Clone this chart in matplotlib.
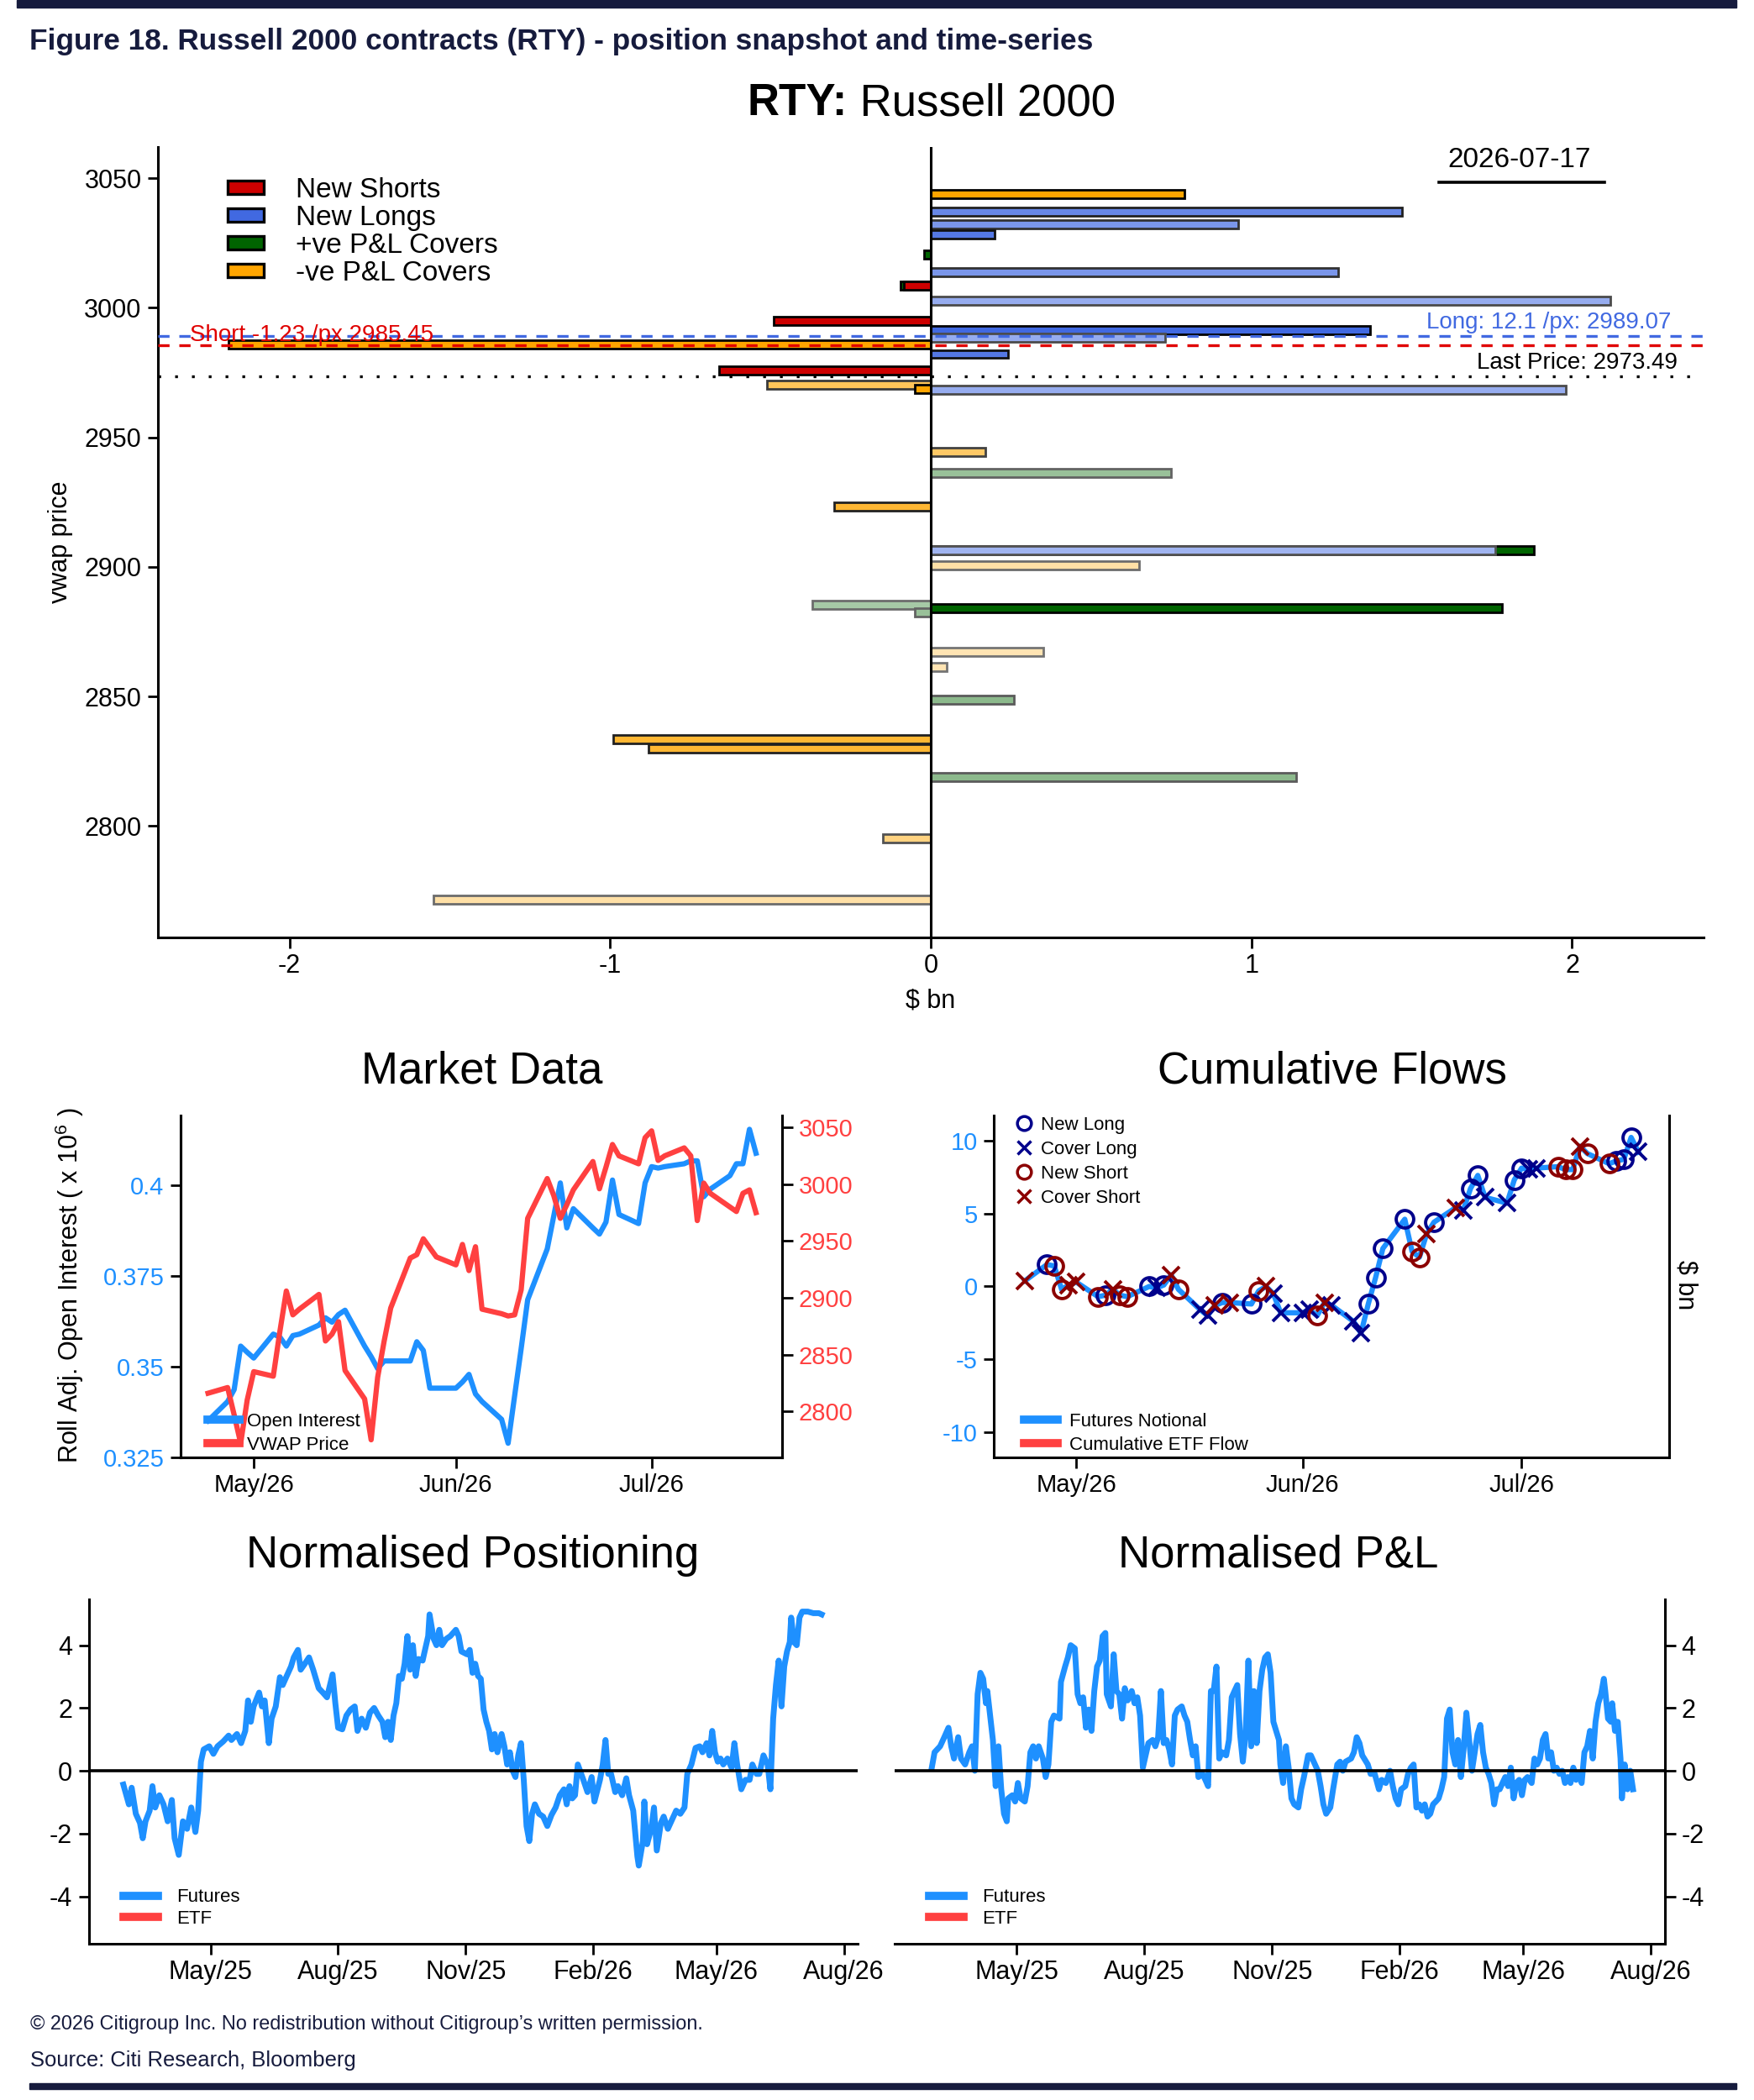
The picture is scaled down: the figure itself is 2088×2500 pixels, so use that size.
import numpy as np
import pandas as pd
import matplotlib
matplotlib.use("Agg")
import matplotlib.pyplot as plt
import matplotlib.dates as mdates
from matplotlib.patches import Patch, Rectangle
from matplotlib.lines import Line2D
from matplotlib.colors import to_rgb

plt.rcParams['font.family'] = ['Liberation Sans', 'DejaVu Sans']
plt.rcParams['mathtext.fontset'] = 'custom'
plt.rcParams['mathtext.rm'] = 'Liberation Sans'
plt.rcParams['mathtext.bf'] = 'Liberation Sans:bold'
plt.rcParams['axes.unicode_minus'] = False

# ---------------- snapshot bars: vwap level, $bn, flow type, recency ----------------
bar_px = [3043.8, 3037.1, 3032.1, 3028.4, 3020.6, 3013.6, 3008.6, 3008.6, 3002.8, 2995.0,
          2991.4, 2988.5, 2985.7, 2982.1, 2975.8, 2970.4, 2968.7, 2968.4, 2944.4, 2936.2,
          2923.3, 2906.5, 2906.5, 2900.5, 2885.4, 2884.1, 2882.5, 2867.2, 2861.3, 2848.6,
          2833.5, 2830.0, 2818.9, 2795.2, 2771.7]
bar_bn = [0.79, 1.47, 0.96, 0.20, -0.02, 1.27, -0.095, -0.085, 2.12, -0.49,
          1.37, 0.73, -2.19, 0.24, -0.66, -0.51, -0.05, 1.98, 0.17, 0.75,
          -0.30, 1.88, 1.76, 0.65, -0.37, 1.78, -0.05, 0.35, 0.05, 0.26,
          -0.99, -0.88, 1.14, -0.15, -1.55]
bar_kind = ['neg', 'long', 'long', 'long', 'pos', 'long', 'pos', 'short', 'long', 'short',
            'long', 'long', 'neg', 'long', 'short', 'neg', 'neg', 'long', 'neg', 'pos',
            'neg', 'pos', 'long', 'neg', 'pos', 'pos', 'pos', 'neg', 'neg', 'pos',
            'neg', 'neg', 'pos', 'neg', 'neg']
bar_recency = [1.0, 0.8, 0.7, 0.9, 1.0, 0.7, 1.0, 1.0, 0.55, 1.0,
               1.0, 0.55, 1.0, 0.9, 1.0, 0.65, 1.0, 0.55, 0.6, 0.4,
               0.8, 1.0, 0.5, 0.35, 0.35, 1.0, 0.4, 0.3, 0.3, 0.45,
               0.8, 0.8, 0.45, 0.5, 0.35]
kind_names = ['short', 'long', 'pos', 'neg']
kind_labels = ['New Shorts', 'New Longs', '+ve P&L Covers', '-ve P&L Covers']

long_amt, long_px = 12.1, 2989.07
short_amt, short_px = -1.23, 2985.45
last_px = 2973.49
snap_date = '2026-07-17'

# ---------------- market data / cumulative flows (daily) ----------------
mkt_dates = pd.bdate_range('2026-04-24', '2026-07-17')
oi = [0.3351, 0.3404, 0.3437, 0.3557, 0.3540, 0.3524, 0.3590, 0.3582, 0.3557, 0.3586,
      0.3590, 0.3615, 0.3635, 0.3623, 0.3644, 0.3656, 0.3557, 0.3528, 0.3495, 0.3516,
      0.3516, 0.3516, 0.3569, 0.3545, 0.3441, 0.3441, 0.3441, 0.3458, 0.3479, 0.3425,
      0.3404, 0.3355, 0.3289, 0.3420, 0.3550, 0.3685, 0.3825, 0.3916, 0.4007, 0.3883,
      0.3936, 0.3883, 0.3866, 0.3899, 0.4015, 0.3920, 0.3895, 0.4007, 0.4052, 0.4048,
      0.4052, 0.4060, 0.4068, 0.4068, 0.3969, 0.3990, 0.4027, 0.4060, 0.4060, 0.4155,
      0.4089]
vwap = [2816, 2821, 2797, 2772, 2810, 2835, 2831, 2870, 2906, 2885,
        2890, 2903, 2862, 2868, 2879, 2836, 2811, 2775, 2830, 2862,
        2891, 2935, 2938, 2952, 2944, 2936, 2929, 2947, 2924, 2945,
        2890, 2886, 2884, 2885, 2907, 2970, 3005, 2990, 2970, 2982,
        2995, 3020, 2996, 3015, 3035, 3025, 3018, 3041, 3047, 3021,
        3025, 3032, 3025, 2968, 3001, 2992, 2980, 2976, 2992, 2995,
        2975]
cum_flow = [0.4, 1.5, 1.4, -0.2, 0.1, 0.3, -0.7, -0.6, -0.2, -0.6,
            -0.7, 0.0, -0.1, 0.1, 0.8, -0.2, -1.6, -2.0, -1.3, -1.1,
            -1.1, -1.2, -0.3, 0.0, -0.5, -1.8, -1.8, -1.6, -2.0, -1.1,
            -1.3, -2.4, -3.2, -1.2, 0.6, 2.6, 4.6, 2.4, 2.0, 3.6,
            4.4, 5.4, 5.2, 6.7, 7.6, 6.1, 5.7, 7.3, 8.1, 8.0,
            8.1, 8.2, 8.0, 8.0, 9.6, 9.1, 8.4, 8.6, 8.7, 10.2,
            9.2]
flow_kind = ['CS', 'NL', 'NS', 'NS', 'CS', 'CS', 'NS', 'NL', 'CS', 'NS',
             'NS', 'NL', 'CL', 'NL', 'CS', 'NS', 'CL', 'CL', 'CS', 'NL',
             'CS', 'NL', 'NS', 'CS', 'CL', 'CL', 'CL', 'CL', 'NS', 'CS',
             'CL', 'CL', 'CL', 'NL', 'NL', 'NL', 'NL', 'NS', 'NS', 'CS',
             'NL', 'CS', 'CL', 'NL', 'NL', 'CL', 'CL', 'NL', 'NL', 'CL',
             'CL', 'NS', 'NS', 'NS', 'CS', 'NS', 'NS', 'NL', 'NL', 'NL',
             'CL']

# ---------------- normalised positioning / P&L (days from 2025-05-01) ----------------
base_day = pd.Timestamp('2025-05-01')
pos_day = [-63, -59, -57, -54, -51, -49, -47, -44, -42, -40, -37, -34, -31, -28, -26, -23, -20, -17, -14, -11,
           -9, -7, -5, -1, 2, 5, 9, 13, 15, 19, 22, 25, 27, 29, 31, 35, 37, 39, 42, 44,
           47, 50, 52, 54, 58, 60, 63, 65, 68, 71, 74, 78, 81, 84, 88, 90, 92, 95, 98, 101,
           104, 106, 109, 112, 115, 118, 121, 124, 126, 128, 130, 132, 134, 136, 138, 140, 142, 144, 146, 148,
           150, 153, 154, 157, 158, 161, 163, 165, 167, 170, 173, 177, 179, 181, 185, 187, 189, 191, 193, 195,
           197, 199, 201, 203, 205, 207, 210, 212, 214, 216, 218, 220, 222, 224, 226, 228, 230, 232, 234, 237,
           240, 243, 246, 249, 252, 255, 257, 259, 261, 263, 265, 269, 272, 275, 277, 281, 283, 285, 287, 289,
           292, 294, 297, 300, 302, 305, 308, 309, 312, 313, 315, 318, 320, 322, 325, 327, 330, 333, 336, 339,
           342, 344, 347, 350, 353, 355, 358, 360, 362, 364, 366, 368, 370, 373, 376, 378, 380, 383, 386, 389,
           391, 394, 396, 399, 402, 404, 406, 408, 410, 412, 414, 416, 418, 419, 421, 423, 425, 427, 431, 435,
           439, 441]
pos_val = [-0.44, -1.07, -0.54, -1.37, -1.66, -2.15, -1.61, -1.27, -0.49, -1.17, -0.78, -1.07, -1.61, -0.93, -2.15, -2.68, -1.61, -1.85, -1.17, -1.95,
           -1.27, 0.29, 0.68, 0.78, 0.54, 0.78, 0.93, 1.12, 0.98, 1.17, 0.88, 1.27, 2.24, 1.56, 2.05, 2.49, 2.05, 2.24, 0.88, 1.66,
           2.05, 2.98, 2.73, 2.93, 3.32, 3.61, 3.85, 3.22, 3.41, 3.61, 3.22, 2.63, 2.49, 2.34, 3.07, 2.15, 1.37, 1.32, 1.76, 1.95,
           2.05, 1.27, 1.66, 1.37, 1.85, 2.00, 1.76, 1.56, 1.07, 1.56, 0.98, 1.76, 2.15, 3.02, 2.93, 3.41, 4.29, 3.22, 4.00, 3.02,
           3.56, 3.51, 3.71, 4.29, 4.98, 4.20, 4.00, 4.49, 4.00, 4.20, 4.29, 4.49, 4.29, 3.80, 3.71, 3.85, 3.12, 3.41, 3.02, 2.93,
           1.95, 1.56, 1.27, 0.68, 1.17, 0.59, 1.17, 0.78, 0.20, 0.59, 0.00, -0.20, 0.49, 0.88, -0.29, -1.76, -2.24, -1.37, -1.07, -1.37,
           -1.46, -1.76, -1.41, -1.17, -0.78, -0.59, -1.07, -0.49, -0.88, -0.78, 0.20, -0.29, -0.68, -0.20, -0.98, -0.29, 0.20, 0.98, -0.10, -0.10,
           -0.68, -0.49, -0.78, -0.24, -0.78, -1.27, -2.73, -3.02, -2.24, -0.98, -2.34, -1.85, -1.17, -2.54, -1.66, -1.46, -1.85, -1.56, -1.27, -1.37,
           -1.17, -0.10, 0.20, 0.73, 0.78, 0.59, 0.88, 0.49, 1.27, 0.59, 0.29, 0.39, 0.20, 0.39, 0.10, 0.88, 0.20, -0.59, -0.29, -0.29,
           0.20, -0.10, -0.10, 0.49, 0.20, -0.59, 1.66, 2.73, 3.51, 2.05, 3.32, 3.80, 4.10, 4.88, 4.10, 4.00, 4.88, 5.07, 5.07, 5.02,
           5.02, 4.98]
pnl_day = [-61, -59, -55, -52, -49, -47, -45, -42, -40, -37, -34, -32, -30, -28, -26, -24, -22, -21, -19, -17,
           -15, -13, -11, -9, -7, -6, -3, -1, 1, 3, 6, 8, 10, 12, 14, 16, 19, 21, 23, 25,
           27, 31, 32, 35, 37, 39, 42, 44, 46, 48, 50, 52, 54, 56, 58, 60, 62, 64, 65, 68,
           70, 72, 74, 76, 78, 80, 83, 85, 87, 89, 91, 93, 95, 98, 100, 102, 104, 106, 108, 110,
           112, 114, 116, 119, 121, 123, 125, 127, 129, 131, 134, 136, 138, 140, 142, 144, 146, 148, 151, 153,
           155, 157, 159, 161, 163, 165, 167, 169, 171, 173, 175, 177, 179, 181, 183, 185, 187, 189, 190, 192,
           194, 196, 198, 200, 203, 205, 207, 210, 212, 215, 217, 219, 221, 223, 226, 228, 231, 233, 235, 237,
           241, 243, 245, 247, 249, 253, 255, 258, 261, 263, 266, 269, 271, 273, 275, 277, 280, 282, 284, 286,
           288, 290, 292, 294, 296, 298, 300, 302, 304, 306, 308, 310, 312, 314, 316, 317, 318, 320, 322, 324,
           326, 328, 330, 332, 334, 336, 338, 340, 342, 344, 346, 348, 350, 352, 354, 356, 358, 360, 362, 364,
           366, 368, 371, 373, 375, 377, 379, 381, 383, 385, 387, 389, 391, 393, 395, 397, 399, 401, 403, 405,
           407, 409, 411, 413, 415, 417, 419, 421, 423, 424, 426, 428, 429, 431, 433, 435, 436, 438, 440, 442,
           444]
pnl_val = [0.10, 0.59, 0.78, 1.07, 1.37, 0.78, 0.39, 1.07, 0.39, 0.20, 0.59, 0.78, 0.00, 2.44, 3.12, 2.93, 2.15, 2.54, 1.76, 0.98,
           -0.49, 0.78, -0.59, -1.37, -1.61, -0.88, -0.78, -0.98, -0.39, -0.88, -0.98, -0.49, 0.59, 0.78, 0.39, 0.78, 0.39, -0.20, 0.20, 1.56,
           1.76, 1.66, 2.83, 3.32, 3.61, 4.00, 3.90, 2.44, 2.15, 2.34, 1.37, 1.95, 1.27, 2.54, 3.32, 3.51, 4.29, 4.39, 2.44, 2.05,
           3.71, 2.54, 2.44, 1.66, 2.63, 2.24, 2.54, 2.15, 2.34, 1.76, 0.10, 0.49, 0.88, 0.98, 0.78, 1.07, 2.54, 0.88, 0.98, 0.68,
           0.20, 1.76, 1.95, 2.05, 1.76, 1.56, 0.98, 0.49, 0.78, -0.20, -0.10, -0.29, -0.49, 2.54, 2.54, 3.32, 0.39, 0.59, 0.49, 0.98,
           2.34, 2.54, 2.73, 1.17, 0.29, 1.17, 3.51, 0.78, 2.54, 0.88, 2.54, 3.22, 3.61, 3.71, 3.12, 1.56, 1.27, 0.98, 0.20, -0.39,
           0.78, 0.10, -0.88, -1.07, -1.17, -0.59, -0.20, 0.49, 0.49, 0.20, 0.00, -0.49, -1.07, -1.37, -1.17, -0.59, 0.20, 0.29, 0.00, 0.29,
           0.39, 0.59, 1.07, 0.88, 0.49, 0.20, -0.10, -0.10, -0.59, -0.29, -0.39, 0.00, -0.49, -0.88, -1.07, -0.59, -0.49, -0.10, 0.10, 0.20,
           -1.17, -1.07, -1.27, -1.07, -1.46, -1.37, -1.07, -0.98, -0.88, -0.59, -0.20, 1.66, 1.95, 0.59, 0.20, 0.59, 0.98, -0.20, 0.68, 1.85,
           0.98, 0.00, 0.59, 1.17, 1.46, 0.59, 0.10, -0.10, -0.39, -1.07, -0.59, -0.59, -0.39, -0.20, -0.49, 0.10, -0.88, -0.39, -0.29, -0.78,
           -0.29, -0.20, -0.39, 0.39, 0.20, 0.39, 0.98, 1.17, 0.39, 0.59, 0.00, 0.10, -0.10, 0.00, -0.39, -0.20, -0.39, 0.10, -0.29, -0.10,
           -0.39, 0.59, 0.78, 1.27, 0.39, 1.56, 2.15, 2.44, 2.93, 2.54, 1.66, 1.56, 2.15, 1.27, 1.56, 0.39, -0.88, 0.20, -0.59, 0.00,
           -0.59]

# ---------------- colours ----------------
navy_txt = '#161b3d'
kind_col = {'short': '#cd0000', 'long': '#4169e1', 'pos': '#006400', 'neg': '#ffa500'}
blue = '#1e90ff'
red = '#ff4040'
flow_style = {'NL': ('o', '#00008b'), 'CL': ('x', '#00008b'),
              'NS': ('o', '#8b0000'), 'CS': ('x', '#8b0000')}
flow_labels = {'NL': 'New Long', 'CL': 'Cover Long', 'NS': 'New Short', 'CS': 'Cover Short'}

W, H = 2088.0, 2500.0
fig = plt.figure(figsize=(W / 100, H / 100), dpi=100)


def box(x0, y0, x1, y1):
    # pixel box measured from the top-left corner -> figure fraction rect
    return [x0 / W, 1 - y1 / H, (x1 - x0) / W, (y1 - y0) / H]


def ftext(x, y, s, **kw):
    return fig.text(x / W, 1 - y / H, s, **kw)


def fade(c, a):
    # opaque colour washed towards white
    return tuple(a * v + (1 - a) for v in to_rgb(c))


def style_axis(ax, size=21):
    ax.tick_params(direction='out', length=9, width=2, labelsize=size, pad=5)
    for s in ax.spines.values():
        s.set_linewidth(2.2)


# ---------------- page furniture ----------------
fig.patches.append(Rectangle((20 / W, 1 - 9 / H), 2047 / W, 9 / H, transform=fig.transFigure,
                             color=navy_txt, zorder=0))
fig.patches.append(Rectangle((35 / W, 1 - 2487 / H), 2032 / W, 7 / H, transform=fig.transFigure,
                             color=navy_txt, zorder=0))
head = ftext(35, 49, 'Figure 18. Russell 2000 contracts (RTY) - position snapshot and time-series',
             fontsize=22, fontweight='bold', color=navy_txt, ha='left', va='center')
foot1 = ftext(36, 2410, '\u00a9 2026 Citigroup Inc. No redistribution without Citigroup\u2019s written permission.',
              fontsize=16, color=navy_txt, ha='left', va='center')
foot2 = ftext(36, 2453, 'Source: Citi Research, Bloomberg', fontsize=16, color=navy_txt,
              ha='left', va='center')
renderer = fig.canvas.get_renderer()
for t, target in [(head, 1264), (foot1, 802), (foot2, 388)]:
    w = t.get_window_extent(renderer=renderer).width
    t.set_fontsize(t.get_fontsize() * target / w)

# ---------------- top: position snapshot ----------------
ax = fig.add_axes(box(188, 175, 2028, 1116))
face = [fade(kind_col[k], a) for k, a in zip(bar_kind, bar_recency)]
edge = [fade('black', 0.35 + 0.65 * a) for a in bar_recency]
ax.barh(bar_px, bar_bn, height=3.2, color=face, edgecolor=edge, linewidth=2.0, zorder=2)
ax.axvline(0, color='black', lw=2.2, zorder=3)
ax.axhline(long_px, color='#4169e1', lw=2.4, ls=(0, (4, 3.5)), zorder=4)
ax.axhline(short_px, color='#e00000', lw=2.4, ls=(0, (4, 3.5)), zorder=4)
ax.axhline(last_px, color='black', lw=2.4, ls=(0, (1, 5)), zorder=4)
ax.text(-2.31, short_px + 4.0, f'Short {short_amt} /px {short_px}', color='#e00000',
        fontsize=20, ha='left', va='center', zorder=5)
ax.text(2.31, long_px + 5.2, f'Long: {long_amt} /px: {long_px}', color='#4169e1',
        fontsize=20, ha='right', va='center', zorder=5)
ax.text(2.33, last_px + 5.3, f'Last Price: {last_px}', color='black',
        fontsize=20, ha='right', va='center', zorder=5)
ax.text(0.881, 0.983, snap_date, transform=ax.transAxes, fontsize=24, ha='center', va='center')
ax.plot([0.829, 0.936], [0.955, 0.955], transform=ax.transAxes, color='black', lw=2.6,
        clip_on=False)
ax.set_xlim(-2.41, 2.41)
ax.set_ylim(2757, 3062)
ax.set_xticks([-2, -1, 0, 1, 2])
ax.set_yticks(range(2800, 3051, 50))
for s in ['top', 'right']:
    ax.spines[s].set_visible(False)
style_axis(ax, 22)
handles = [Patch(facecolor=kind_col[k], edgecolor='black', linewidth=2.4) for k in kind_names]
ax.legend(handles, kind_labels, loc='upper left', bbox_to_anchor=(0.045, 0.962), frameon=False,
          fontsize=24, handlelength=1.3, handleheight=0.35, handletextpad=1.15,
          labelspacing=0.06, borderpad=0, borderaxespad=0)
ftext(1009, 123, 'RTY:', fontsize=38, fontweight='bold', ha='right', va='center')
ftext(1009, 123, ' Russell 2000', fontsize=38, ha='left', va='center')
ftext(72, 645, 'vwap price', fontsize=22, rotation=90, ha='center', va='center')
ftext(1108, 1192, '$ bn', fontsize=22, ha='center', va='center')

# ---------------- market data ----------------
month_fmt = mdates.DateFormatter('%b/%y')
mkt_ticks = pd.to_datetime(['2026-05-01', '2026-06-01', '2026-07-01'])
small_leg = dict(frameon=False, fontsize=16, labelspacing=0.3, borderpad=0, borderaxespad=0)
axm = fig.add_axes(box(215, 1328, 931, 1735))
axm.plot(mkt_dates, oi, color=blue, lw=4.5)
axm.set_ylim(0.325, 0.4193)
axm.set_yticks([0.325, 0.35, 0.375, 0.4])
axm.set_yticklabels(['0.325', '0.35', '0.375', '0.4'])
axm.set_xlim(pd.Timestamp('2026-04-19 19:00'), pd.Timestamp('2026-07-21'))
axm.set_xticks(mkt_ticks)
axm.xaxis.set_major_formatter(month_fmt)
axr = axm.twinx()
axr.plot(mkt_dates, vwap, color=red, lw=4.5)
axr.set_ylim(2759.5, 3060.5)
axr.set_yticks(range(2800, 3051, 50))
for a in (axm, axr):
    a.spines['top'].set_visible(False)
    style_axis(a)
axm.tick_params(axis='y', labelcolor=blue)
axr.tick_params(axis='y', labelcolor=red)
axr.legend([Line2D([], [], color=blue, lw=7), Line2D([], [], color=red, lw=7)],
           ['Open Interest', 'VWAP Price'], loc='lower left', bbox_to_anchor=(0.045, 0.01),
           handlelength=1.7, handletextpad=0.4, **small_leg)
ftext(574, 1275, 'Market Data', fontsize=38, ha='center', va='center')
ftext(83, 1530, 'Roll Adj. Open Interest ( x 10$^{6}$ )', fontsize=22, rotation=90,
      ha='center', va='center')

# ---------------- cumulative flows ----------------
axc = fig.add_axes(box(1183, 1328, 1987, 1735))
axc.plot(mkt_dates, cum_flow, color=blue, lw=4.5, zorder=2)
kinds = np.array(flow_kind)
flows = np.array(cum_flow)
for k, (m, c) in flow_style.items():
    sel = kinds == k
    axc.plot(mkt_dates[sel], flows[sel], ls='none', marker=m, ms=15, mfc='none', mec=c,
             mew=2.8, zorder=3)
axc.set_ylim(-11.7, 11.7)
axc.set_yticks([-10, -5, 0, 5, 10])
axc.set_xlim(pd.Timestamp('2026-04-19 17:00'), pd.Timestamp('2026-07-21 05:00'))
axc.set_xticks(mkt_ticks)
axc.xaxis.set_major_formatter(month_fmt)
axc.spines['top'].set_visible(False)
style_axis(axc)
axc.tick_params(axis='y', labelcolor=blue)
order = ['NL', 'CL', 'NS', 'CS']
leg1 = axc.legend([Line2D([], [], ls='none', marker=flow_style[k][0], ms=12, mfc='none',
                          mec=flow_style[k][1], mew=2.5) for k in order],
                  [flow_labels[k] for k in order], loc='upper left',
                  bbox_to_anchor=(0.031, 0.997), handlelength=1.0, handletextpad=0.4,
                  **dict(small_leg, labelspacing=0.36))
axc.add_artist(leg1)
axc.legend([Line2D([], [], color=blue, lw=7), Line2D([], [], color=red, lw=7)],
           ['Futures Notional', 'Cumulative ETF Flow'], loc='lower left',
           bbox_to_anchor=(0.045, 0.01), handlelength=1.8, handletextpad=0.6, **small_leg)
ftext(1586, 1275, 'Cumulative Flows', fontsize=38, ha='center', va='center')
ftext(2007, 1530, '$ bn', fontsize=22, rotation=270, ha='center', va='center')

# ---------------- normalised positioning / P&L ----------------
pos_dates = base_day + pd.to_timedelta(pos_day, unit='D')
pnl_dates = base_day + pd.to_timedelta(pnl_day, unit='D')
long_xlim = (pd.Timestamp('2025-02-02'), pd.Timestamp('2026-08-11'))
quarter_loc = mdates.MonthLocator(bymonth=[2, 5, 8, 11])


def normalised(rect, dates, vals, side):
    a = fig.add_axes(rect)
    a.plot(dates, vals, color=blue, lw=5, zorder=2)
    a.axhline(0, color='black', lw=2.6, zorder=3)
    a.set_ylim(-5.5, 5.46)
    a.set_yticks([-4, -2, 0, 2, 4])
    a.set_xlim(*long_xlim)
    a.xaxis.set_major_locator(quarter_loc)
    a.xaxis.set_major_formatter(month_fmt)
    a.spines['top'].set_visible(False)
    if side == 'left':
        a.spines['right'].set_visible(False)
    else:
        a.spines['left'].set_visible(False)
        a.yaxis.tick_right()
    style_axis(a, 22)
    a.legend([Line2D([], [], color=blue, lw=7), Line2D([], [], color=red, lw=7)],
             ['Futures', 'ETF'], loc='lower left', bbox_to_anchor=(0.045, 0.045),
             handlelength=1.85, handletextpad=1.0, **dict(small_leg, labelspacing=0.22))
    return a


normalised(box(105.6, 1904, 1021, 2313.6), pos_dates, pos_val, 'left')
normalised(box(1064.6, 1904, 1982, 2313.6), pnl_dates, pnl_val, 'right')
ftext(563, 1852, 'Normalised Positioning', fontsize=38, ha='center', va='center')
ftext(1522, 1852, 'Normalised P&L', fontsize=38, ha='center', va='center')

fig.savefig('out.png', dpi=100, facecolor='white')
